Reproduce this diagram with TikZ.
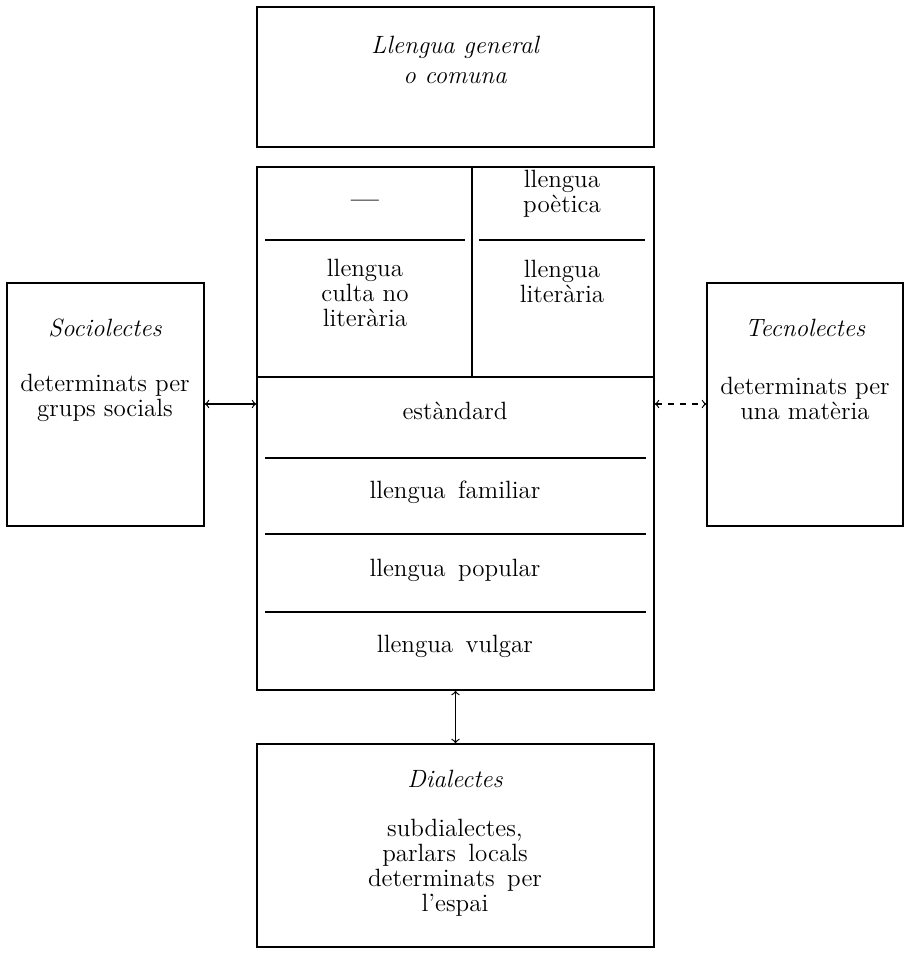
\documentclass[tikz,border=0pt]{standalone}
\usepackage{fontspec}
\usepackage{tikz}
\usetikzlibrary{fit,positioning}

\tikzset{
  kasten/.style={draw, line width=0.8pt, inner sep=0pt},
  trennlinie/.style={line width=0.8pt},
  txt/.style={align=center, font=\fontsize{12.5}{12.5}\selectfont},
  kursiv/.style={txt, font=\fontsize{12.5}{15}\selectfont\itshape},
  pfeil/.style={<->, line width=0.6pt, >=to}
}

\begin{document}
\begin{tikzpicture}[x=0.5pt,y=-0.5pt]
	% Rahmen
	\useasboundingbox (0,0) rectangle (910,953);

	% Ecken
	\coordinate (g1) at (257,7);   \coordinate (g2) at (654,147);
	\coordinate (o1) at (257,167); \coordinate (o2) at (654,377);
	\coordinate (u1) at (257,377); \coordinate (u2) at (654,690);
	\coordinate (s1) at (7,283);   \coordinate (s2) at (204,526);
	\coordinate (t1) at (707,283); \coordinate (t2) at (903,526);
	\coordinate (d1) at (257,744); \coordinate (d2) at (654,947);

	% Kaesten
	\node[kasten, fit=(g1)(g2)] (general) {};
	\node[kasten, fit=(o1)(o2)] (oben) {};
	\node[kasten, fit=(u1)(u2)] (unten) {};
	\node[kasten, fit=(s1)(s2)] (socio) {};
	\node[kasten, fit=(t1)(t2)] (tecno) {};
	\node[kasten, fit=(d1)(d2)] (dial) {};

	% Linien
	\draw[trennlinie] (472,167) -- (472,377);
	\draw[trennlinie] (265,240) -- (465,240);
	\draw[trennlinie] (479,240) -- (645,240);
	\draw[trennlinie] (265,458) -- (646,458);
	\draw[trennlinie] (265,534) -- (646,534);
	\draw[trennlinie] (265,612) -- (646,612);

	% Texte
	\node[kursiv] (tgeneral) at (455,60) {Llengua general\\o comuna};
	\node[txt] (tstrich) at (365,204) {\textbf{---}};
	\node[txt] (tpoetica) at (562,194) {llengua\\poètica};
	\node[txt] (tculta) at (365,293) {llengua\\culta no\\literària};
	\node[txt] (tliteraria) at (562,281) {llengua\\literària};
	\node[txt] (testandard) at (455,411) {estàndard};
	\node[txt] (tfamiliar) at (455,492) {llengua\enspace familiar};
	\node[txt] (tpopular) at (455,570) {llengua\enspace popular};
	\node[txt] (tvulgar) at (455,646) {llengua\enspace vulgar};
	\node[kursiv] (tsocio) at (105,328) {Sociolectes};
	\node[txt] (tsociodet) at (105,398) {determinats per\\grups socials};
	\node[kursiv] (ttecno) at (805,328) {Tecnolectes};
	\node[txt] (ttecnodet) at (805,398) {determinats per\\una matèria};
	\node[kursiv] (tdial) at (455,779) {Dialectes};
	\node[txt] (tdialdet) at (455,868) {subdialectes,\\parlars\enspace locals\\determinats\enspace per\\l’espai};

	% Pfeile
	\draw[pfeil] (socio.east |- 0,404) -- (unten.west |- 0,404);
	\draw[pfeil, dashed] (unten.east |- 0,404) -- (tecno.west |- 0,404);
	\draw[pfeil] (unten.south) -- (dial.north);
\end{tikzpicture}
\end{document}
